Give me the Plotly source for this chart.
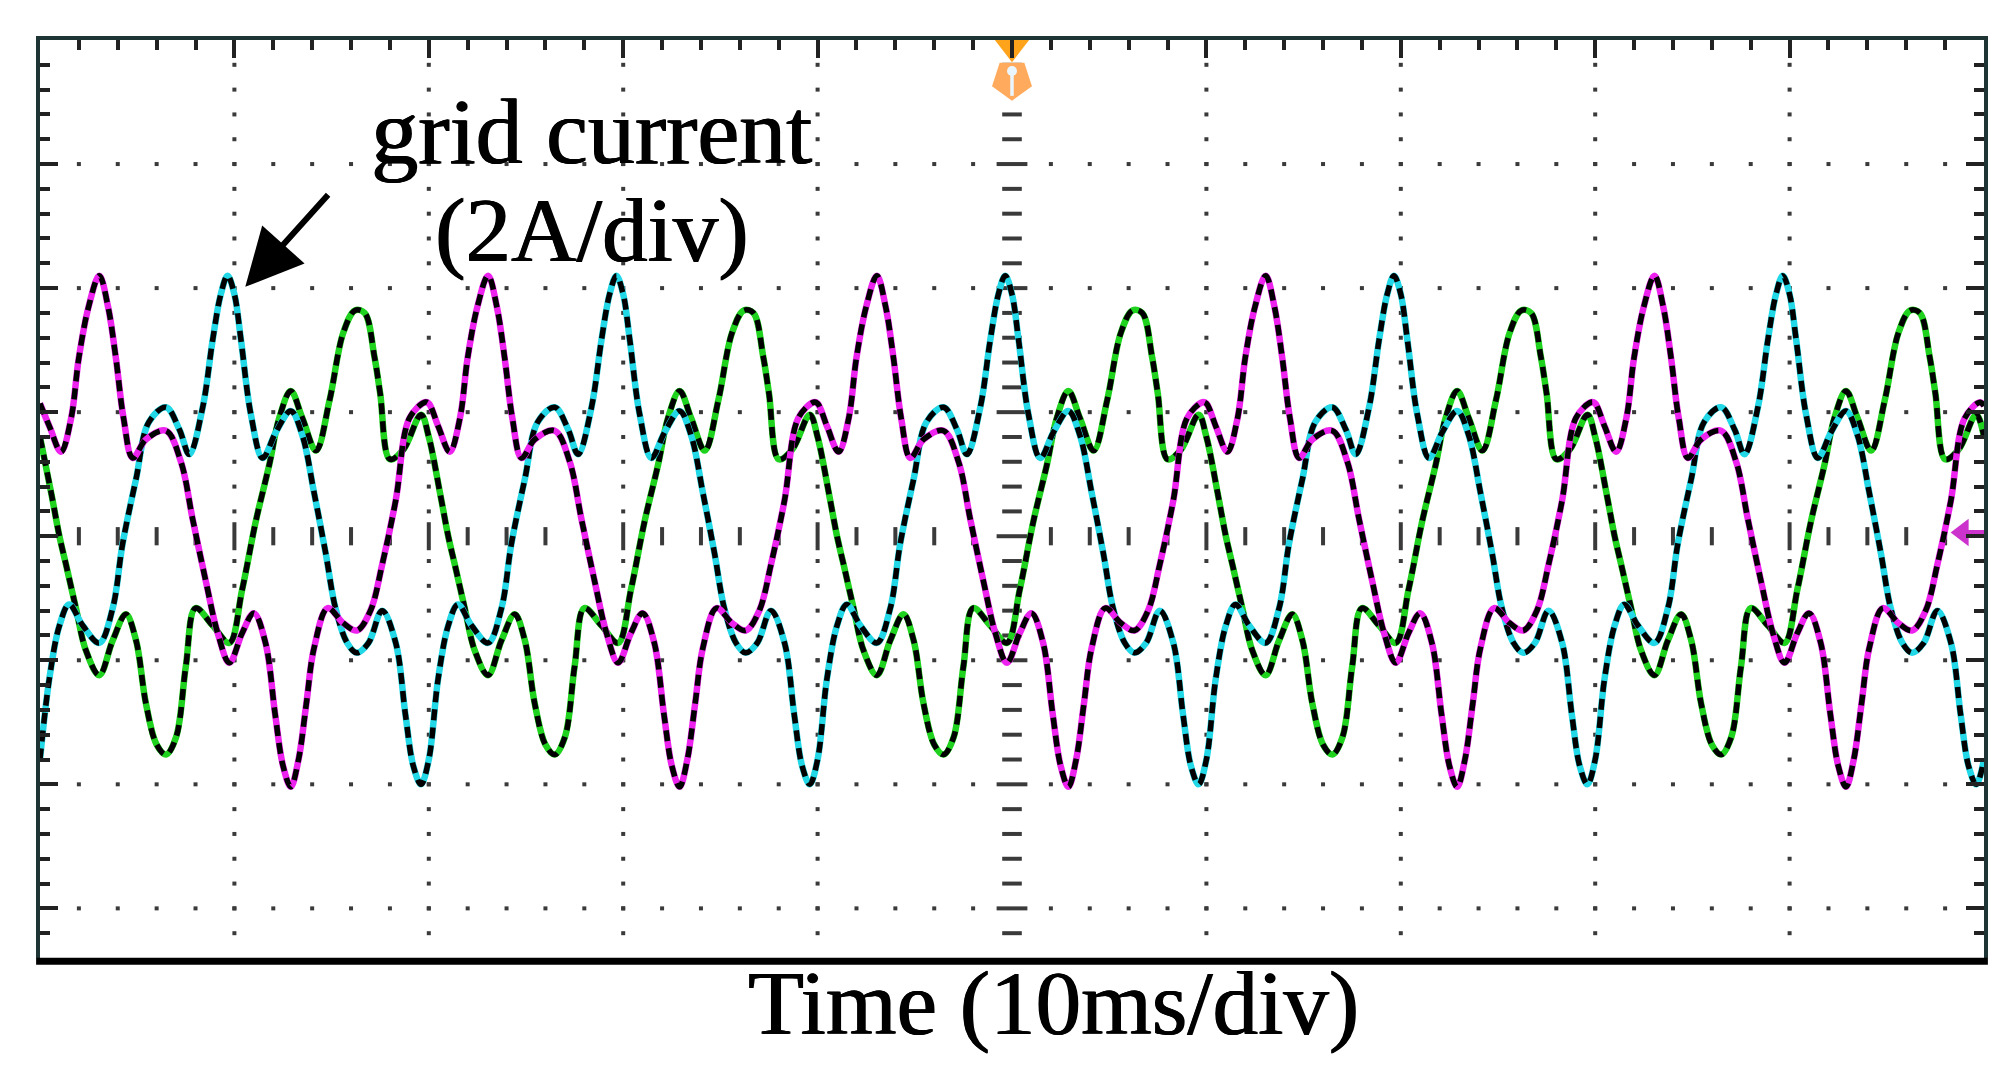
import numpy as np
import plotly.graph_objects as go

# ---------------- data ----------------
# time in ms (10 ms/div), current in A (2 A/div)
MAG_T = [0, 0.5, 1.08, 1.6, 2.0, 2.5, 3.05, 3.5, 3.9, 4.3, 4.77, 5.45, 6.48, 7.25, 7.85, 8.54, 9.14, 9.74, 10.4, 11.0, 11.6, 12.1, 12.5, 12.9, 13.3, 13.7, 14.1, 14.8, 15.6, 16.3, 17.0, 17.6, 18.3, 19.0, 19.8,
         20, 20.5, 21.08, 21.6, 22.0, 22.5, 23.05, 23.5, 23.9, 24.3, 24.77, 25.45, 26.48, 27.25, 27.85, 28.54, 29.14, 29.74, 30.4, 31.0, 31.6, 32.1, 32.5, 32.9, 33.3, 33.7, 34.1, 34.8, 35.6, 36.3, 37.0, 37.6, 38.3, 39.0, 39.8,
         40, 40.5, 41.08, 41.6, 42.0, 42.5, 43.05, 43.5, 43.9, 44.3, 44.77, 45.45, 46.48, 47.25, 47.85, 48.54, 49.14, 49.74, 50.4, 51.0, 51.6, 52.1, 52.5, 52.9, 53.3, 53.7, 54.1, 54.8, 55.6, 56.3, 57.0, 57.6, 58.3, 59.0, 59.8,
         60, 60.5, 61.08, 61.6, 62.0, 62.5, 63.05, 63.5, 63.9, 64.3, 64.77, 65.45, 66.48, 67.25, 67.85, 68.54, 69.14, 69.74, 70.4, 71.0, 71.6, 72.1, 72.5, 72.9, 73.3, 73.7, 74.1, 74.8, 75.6, 76.3, 77.0, 77.6, 78.3, 79.0, 79.8,
         80, 80.5, 81.08, 81.6, 82.0, 82.5, 83.05, 83.5, 83.9, 84.3, 84.77, 85.45, 86.48, 87.25, 87.85, 88.54, 89.14, 89.74, 90.4, 91.0, 91.6, 92.1, 92.5, 92.9, 93.3, 93.7, 94.1, 94.8, 95.6, 96.3, 97.0, 97.6, 98.3, 99.0, 99.8, 100]
MAG_I = [2.14, 1.76, 1.36, 1.9, 2.88, 3.7, 4.2, 3.7, 2.88, 1.9, 1.26, 1.56, 1.7, 1.2, 0.28, -0.74, -1.56, -2.04, -1.56, -1.24, -1.72, -2.88, -3.7, -4.04, -3.6, -2.7, -1.8, -1.16, -1.4, -1.52, -1.2, -0.46, 0.58, 1.9, 2.16,
         2.14, 1.76, 1.36, 1.9, 2.88, 3.7, 4.2, 3.7, 2.88, 1.9, 1.26, 1.56, 1.7, 1.2, 0.28, -0.74, -1.56, -2.04, -1.56, -1.24, -1.72, -2.88, -3.7, -4.04, -3.6, -2.7, -1.8, -1.16, -1.4, -1.52, -1.2, -0.46, 0.58, 1.9, 2.16,
         2.14, 1.76, 1.36, 1.9, 2.88, 3.7, 4.2, 3.7, 2.88, 1.9, 1.26, 1.56, 1.7, 1.2, 0.28, -0.74, -1.56, -2.04, -1.56, -1.24, -1.72, -2.88, -3.7, -4.04, -3.6, -2.7, -1.8, -1.16, -1.4, -1.52, -1.2, -0.46, 0.58, 1.9, 2.16,
         2.14, 1.76, 1.36, 1.9, 2.88, 3.7, 4.2, 3.7, 2.88, 1.9, 1.26, 1.56, 1.7, 1.2, 0.28, -0.74, -1.56, -2.04, -1.56, -1.24, -1.72, -2.88, -3.7, -4.04, -3.6, -2.7, -1.8, -1.16, -1.4, -1.52, -1.2, -0.46, 0.58, 1.9, 2.16,
         2.14, 1.76, 1.36, 1.9, 2.88, 3.7, 4.2, 3.7, 2.88, 1.9, 1.26, 1.56, 1.7, 1.2, 0.28, -0.74, -1.56, -2.04, -1.56, -1.24, -1.72, -2.88, -3.7, -4.04, -3.6, -2.7, -1.8, -1.16, -1.4, -1.52, -1.2, -0.46, 0.58, 1.9, 2.16, 2.1]

CYA_T = [0, 0.48, 1.0, 1.5, 2.2, 3.05, 3.74, 4.25, 4.94, 5.6, 6.48, 7.17, 7.68, 8.37, 8.88, 9.3, 9.65, 10.0, 10.34, 10.85, 11.45, 12.14, 12.9, 13.5, 14.1, 14.7, 15.2, 15.8, 16.3, 16.9, 17.6, 18.3, 18.8, 19.2, 19.6,
         20, 20.48, 21.0, 21.5, 22.2, 23.05, 23.74, 24.25, 24.94, 25.6, 26.48, 27.17, 27.68, 28.37, 28.88, 29.3, 29.65, 30.0, 30.34, 30.85, 31.45, 32.14, 32.9, 33.5, 34.1, 34.7, 35.2, 35.8, 36.3, 36.9, 37.6, 38.3, 38.8, 39.2, 39.6,
         40, 40.48, 41.0, 41.5, 42.2, 43.05, 43.74, 44.25, 44.94, 45.6, 46.48, 47.17, 47.68, 48.37, 48.88, 49.3, 49.65, 50.0, 50.34, 50.85, 51.45, 52.14, 52.9, 53.5, 54.1, 54.7, 55.2, 55.8, 56.3, 56.9, 57.6, 58.3, 58.8, 59.2, 59.6,
         60, 60.48, 61.0, 61.5, 62.2, 63.05, 63.74, 64.25, 64.94, 65.6, 66.48, 67.17, 67.68, 68.37, 68.88, 69.3, 69.65, 70.0, 70.34, 70.85, 71.45, 72.14, 72.9, 73.5, 74.1, 74.7, 75.2, 75.8, 76.3, 76.9, 77.6, 78.3, 78.8, 79.2, 79.6,
         80, 80.48, 81.0, 81.5, 82.2, 83.05, 83.74, 84.25, 84.94, 85.6, 86.48, 87.17, 87.68, 88.37, 88.88, 89.3, 89.65, 90.0, 90.34, 90.85, 91.45, 92.14, 92.9, 93.5, 94.1, 94.7, 95.2, 95.8, 96.3, 96.9, 97.6, 98.3, 98.8, 99.2, 99.6, 100]
CYA_I = [-3.6, -2.3, -1.44, -1.1, -1.44, -1.72, -1.16, -0.12, 0.92, 1.84, 2.08, 1.72, 1.32, 2.08, 3.16, 3.9, 4.2, 3.9, 3.16, 1.96, 1.26, 1.68, 2.02, 1.62, 0.7, -0.28, -1.16, -1.72, -1.88, -1.72, -1.2, -1.72, -2.88, -3.7, -4.0,
         -3.6, -2.3, -1.44, -1.1, -1.44, -1.72, -1.16, -0.12, 0.92, 1.84, 2.08, 1.72, 1.32, 2.08, 3.16, 3.9, 4.2, 3.9, 3.16, 1.96, 1.26, 1.68, 2.02, 1.62, 0.7, -0.28, -1.16, -1.72, -1.88, -1.72, -1.2, -1.72, -2.88, -3.7, -4.0,
         -3.6, -2.3, -1.44, -1.1, -1.44, -1.72, -1.16, -0.12, 0.92, 1.84, 2.08, 1.72, 1.32, 2.08, 3.16, 3.9, 4.2, 3.9, 3.16, 1.96, 1.26, 1.68, 2.02, 1.62, 0.7, -0.28, -1.16, -1.72, -1.88, -1.72, -1.2, -1.72, -2.88, -3.7, -4.0,
         -3.6, -2.3, -1.44, -1.1, -1.44, -1.72, -1.16, -0.12, 0.92, 1.84, 2.08, 1.72, 1.32, 2.08, 3.16, 3.9, 4.2, 3.9, 3.16, 1.96, 1.26, 1.68, 2.02, 1.62, 0.7, -0.28, -1.16, -1.72, -1.88, -1.72, -1.2, -1.72, -2.88, -3.7, -4.0,
         -3.6, -2.3, -1.44, -1.1, -1.44, -1.72, -1.16, -0.12, 0.92, 1.84, 2.08, 1.72, 1.32, 2.08, 3.16, 3.9, 4.2, 3.9, 3.16, 1.96, 1.26, 1.68, 2.02, 1.62, 0.7, -0.28, -1.16, -1.72, -1.88, -1.72, -1.2, -1.72, -2.88, -3.7, -4.0, -3.6]

GRN_T = [0, 0.6, 1.0, 1.34, 1.85, 2.36, 3.05, 3.74, 4.42, 4.94, 5.45, 6.0, 6.48, 7.0, 7.5, 8.0, 8.88, 9.74, 10.4, 11.1, 11.8, 12.3, 12.9, 13.5, 14.2, 14.9, 15.6, 16.2, 16.7, 17.2, 17.5, 18.0, 18.7, 19.6,
         20, 20.6, 21.0, 21.34, 21.85, 22.36, 23.05, 23.74, 24.42, 24.94, 25.45, 26.0, 26.48, 27.0, 27.5, 28.0, 28.88, 29.74, 30.4, 31.1, 31.8, 32.3, 32.9, 33.5, 34.2, 34.9, 35.6, 36.2, 36.7, 37.2, 37.5, 38.0, 38.7, 39.6,
         40, 40.6, 41.0, 41.34, 41.85, 42.36, 43.05, 43.74, 44.42, 44.94, 45.45, 46.0, 46.48, 47.0, 47.5, 48.0, 48.88, 49.74, 50.4, 51.1, 51.8, 52.3, 52.9, 53.5, 54.2, 54.9, 55.6, 56.2, 56.7, 57.2, 57.5, 58.0, 58.7, 59.6,
         60, 60.6, 61.0, 61.34, 61.85, 62.36, 63.05, 63.74, 64.42, 64.94, 65.45, 66.0, 66.48, 67.0, 67.5, 68.0, 68.88, 69.74, 70.4, 71.1, 71.8, 72.3, 72.9, 73.5, 74.2, 74.9, 75.6, 76.2, 76.7, 77.2, 77.5, 78.0, 78.7, 79.6,
         80, 80.6, 81.0, 81.34, 81.85, 82.36, 83.05, 83.74, 84.42, 84.94, 85.45, 86.0, 86.48, 87.0, 87.5, 88.0, 88.88, 89.74, 90.4, 91.1, 91.8, 92.3, 92.9, 93.5, 94.2, 94.9, 95.6, 96.2, 96.7, 97.2, 97.5, 98.0, 98.7, 99.6, 100]
GRN_I = [1.6, 0.66, 0.0, -0.46, -1.16, -1.84, -2.24, -1.68, -1.26, -1.68, -2.7, -3.36, -3.52, -3.24, -2.1, -1.16, -1.44, -1.72, -0.86, 0.24, 1.16, 1.9, 2.34, 1.9, 1.38, 2.2, 3.28, 3.64, 3.6, 2.9, 2.3, 1.24, 1.4, 1.96,
         1.6, 0.66, 0.0, -0.46, -1.16, -1.84, -2.24, -1.68, -1.26, -1.68, -2.7, -3.36, -3.52, -3.24, -2.1, -1.16, -1.44, -1.72, -0.86, 0.24, 1.16, 1.9, 2.34, 1.9, 1.38, 2.2, 3.28, 3.64, 3.6, 2.9, 2.3, 1.24, 1.4, 1.96,
         1.6, 0.66, 0.0, -0.46, -1.16, -1.84, -2.24, -1.68, -1.26, -1.68, -2.7, -3.36, -3.52, -3.24, -2.1, -1.16, -1.44, -1.72, -0.86, 0.24, 1.16, 1.9, 2.34, 1.9, 1.38, 2.2, 3.28, 3.64, 3.6, 2.9, 2.3, 1.24, 1.4, 1.96,
         1.6, 0.66, 0.0, -0.46, -1.16, -1.84, -2.24, -1.68, -1.26, -1.68, -2.7, -3.36, -3.52, -3.24, -2.1, -1.16, -1.44, -1.72, -0.86, 0.24, 1.16, 1.9, 2.34, 1.9, 1.38, 2.2, 3.28, 3.64, 3.6, 2.9, 2.3, 1.24, 1.4, 1.96,
         1.6, 0.66, 0.0, -0.46, -1.16, -1.84, -2.24, -1.68, -1.26, -1.68, -2.7, -3.36, -3.52, -3.24, -2.1, -1.16, -1.44, -1.72, -0.86, 0.24, 1.16, 1.9, 2.34, 1.9, 1.38, 2.2, 3.28, 3.64, 3.6, 2.9, 2.3, 1.24, 1.4, 1.96, 1.6]

TIME_DIV = 10      # ms per division
AMP_DIV = 2        # A per division
X_RANGE = [0, 100]
Y_RANGE = [-6.8, 8]

LABEL_TITLE = "grid current"
LABEL_SCALE = "(2A/div)"
LABEL_TIME = "Time (10ms/div)"

# ---------------- styling ----------------
MAGENTA = "#EE22EE"
CYAN = "#22D8E6"
GREEN = "#1ED21E"
BORDER = "#1f3535"
GRID = "#3a3a3a"
FONT = "Liberation Serif"
HEAVY = "0.9px 0px 0px black, -0.4px 0px 0px black"

fig = go.Figure()

# ---- oscilloscope graticule (dots along the division lines) ----
minor_x = np.arange(X_RANGE[0] + TIME_DIV / 5, X_RANGE[1], TIME_DIV / 5)
minor_y = np.arange(-6.4, Y_RANGE[1] - 0.01, AMP_DIV / 5)
hx, hy = [], []
for yv in [-6, -4, -2, 2, 4, 6]:
    for xv in minor_x:
        if abs(xv - 50) > 1e-6:
            hx.append(xv); hy.append(yv)
for xv in [10, 20, 30, 40, 60, 70, 80, 90]:
    for yv in minor_y:
        if abs(yv) > 1e-6:
            hx.append(xv); hy.append(yv)
fig.add_trace(go.Scatter(x=hx, y=hy, mode="markers", hoverinfo="skip",
                         marker=dict(symbol="square", size=4, color=GRID, line=dict(width=0))))

# centre horizontal line: short vertical bars
cxs = [v for v in minor_x if abs(v - 50) > 1e-6]
cx_major = [v for v in cxs if abs(v / 10 - round(v / 10)) < 1e-6]
cx_minor = [v for v in cxs if abs(v / 10 - round(v / 10)) >= 1e-6]
fig.add_trace(go.Scatter(x=cx_minor, y=[0] * len(cx_minor), mode="markers", hoverinfo="skip",
                         marker=dict(symbol="line-ns", size=13, line=dict(width=4, color=GRID))))
fig.add_trace(go.Scatter(x=cx_major, y=[0] * len(cx_major), mode="markers", hoverinfo="skip",
                         marker=dict(symbol="line-ns", size=20, line=dict(width=4, color=GRID))))
# centre vertical line: short horizontal dashes
cys = list(minor_y)
cy_major = [v for v in cys if abs(v / 2 - round(v / 2)) < 1e-6]
cy_minor = [v for v in cys if abs(v / 2 - round(v / 2)) >= 1e-6]
fig.add_trace(go.Scatter(x=[50] * len(cy_minor), y=cy_minor, mode="markers", hoverinfo="skip",
                         marker=dict(symbol="line-ew", size=14, line=dict(width=4, color=GRID))))
fig.add_trace(go.Scatter(x=[50] * len(cy_major), y=cy_major, mode="markers", hoverinfo="skip",
                         marker=dict(symbol="line-ew", size=22, line=dict(width=4, color=GRID))))

# ---- waveforms: coloured trace with a black dashed overlay ----
for t, i, col in [(GRN_T, GRN_I, GREEN), (CYA_T, CYA_I, CYAN), (MAG_T, MAG_I, MAGENTA)]:
    fig.add_trace(go.Scatter(x=t, y=i, mode="lines", hoverinfo="skip",
                             line=dict(color=col, width=6.5, shape="spline", smoothing=1.0)))
    fig.add_trace(go.Scatter(x=t, y=i, mode="lines", hoverinfo="skip",
                             line=dict(color="black", width=5.5, dash="11px,7px", shape="spline", smoothing=1.0)))

# ---- trigger marker (top) ----
fig.add_trace(go.Scatter(x=[50], y=[7.36], mode="markers", cliponaxis=False, hoverinfo="skip",
                         marker=dict(symbol="pentagon", angle=180, size=42, color="#FFAA5C", line=dict(width=0))))
fig.add_trace(go.Scatter(x=[50], y=[7.9], mode="markers", cliponaxis=False, hoverinfo="skip",
                         marker=dict(symbol="triangle-down", size=32, color="#FFA31A", line=dict(width=0))))
fig.add_trace(go.Scatter(x=[50], y=[7.5], mode="markers", cliponaxis=False, hoverinfo="skip",
                         marker=dict(symbol="circle", size=10, color="#EAF6FF", line=dict(width=0))))
fig.add_trace(go.Scatter(x=[50], y=[7.28], mode="markers", cliponaxis=False, hoverinfo="skip",
                         marker=dict(symbol="line-ns", size=16, line=dict(width=3.5, color="#EAF6FF"))))

# ---- ground-level marker (right) ----
fig.add_trace(go.Scatter(x=[98.9], y=[0.06], mode="markers", cliponaxis=False, hoverinfo="skip",
                         marker=dict(symbol="triangle-left", size=24, color="#CC33CC", line=dict(width=0))))
fig.add_trace(go.Scatter(x=[99.6], y=[0.06], mode="markers", cliponaxis=False, hoverinfo="skip",
                         marker=dict(symbol="line-ew", size=14, line=dict(width=5, color="#CC33CC"))))

# ---- texts and arrow ----
fig.add_annotation(x=28.37, y=6.54, xref="x", yref="y", text=LABEL_TITLE, showarrow=False,
                   xanchor="center", yanchor="middle",
                   font=dict(family=FONT, size=94, color="black", shadow=HEAVY))
fig.add_annotation(x=28.38, y=4.93, xref="x", yref="y", text=LABEL_SCALE, showarrow=False,
                   xanchor="center", yanchor="middle",
                   font=dict(family=FONT, size=91, color="black", shadow=HEAVY))
fig.add_annotation(x=10.56, y=4.02, xref="x", yref="y", ax=14.89, ay=5.53, axref="x", ayref="y",
                   text="", showarrow=True, arrowhead=2, arrowsize=1.9, arrowwidth=6,
                   arrowcolor="black", standoff=0)
fig.add_annotation(x=0.5211, y=-0.0501, xref="paper", yref="paper", text=LABEL_TIME, showarrow=False,
                   xanchor="center", yanchor="middle",
                   font=dict(family=FONT, size=91, color="black", shadow=HEAVY))

# thick bottom border
fig.add_shape(type="line", xref="paper", yref="paper", x0=-0.002, x1=1.002, y0=-0.0035, y1=-0.0035,
              line=dict(color="black", width=7))

# the page body adds an 8 px offset, so the figure is 2000x1067 with margins shifted by 8 px
fig.update_layout(
    width=2000, height=1067,
    margin=dict(l=32, r=24, t=32, b=117),
    paper_bgcolor="white", plot_bgcolor="white",
    showlegend=False,
    xaxis=dict(range=X_RANGE, side="top", showline=True, linecolor=BORDER, linewidth=4,
               ticks="inside", ticklen=18, tickwidth=4, tickcolor="#222222",
               tick0=0, dtick=TIME_DIV, showticklabels=False, showgrid=False, zeroline=False,
               minor=dict(ticks="inside", ticklen=10, tickwidth=4, tickcolor="#222222",
                          dtick=TIME_DIV / 5, showgrid=False)),
    yaxis=dict(range=Y_RANGE, showline=True, mirror="ticks", linecolor=BORDER, linewidth=4,
               ticks="inside", ticklen=18, tickwidth=4, tickcolor="#222222",
               tick0=0, dtick=AMP_DIV, showticklabels=False, showgrid=False, zeroline=False,
               minor=dict(ticks="inside", ticklen=10, tickwidth=4, tickcolor="#222222",
                          dtick=AMP_DIV / 5, showgrid=False)),
)

fig.write_html("out.html")
